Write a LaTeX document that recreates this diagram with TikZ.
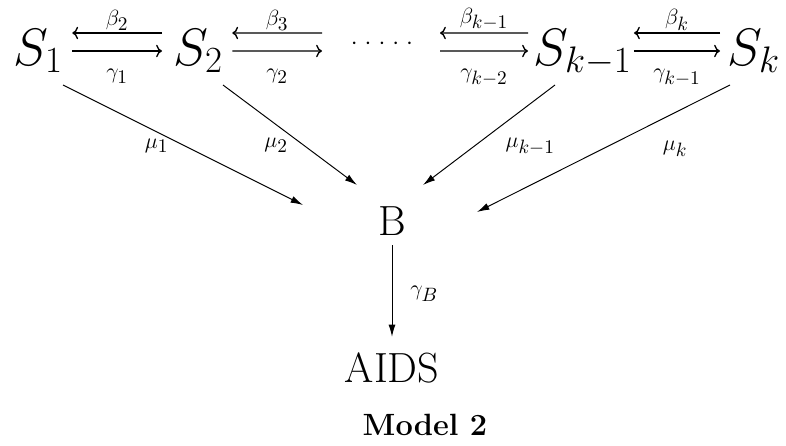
\RequirePackage{fix-cm}
\documentclass[tikz,border=0pt]{standalone}
\usepackage{amsmath}
\usetikzlibrary{arrows.meta,positioning}
\DeclareMathSizes{12.5}{12.5}{11}{8}

\begin{document}
\begin{tikzpicture}[
    state/.style={inner sep=0pt, anchor=base west, font=\fontsize{30}{36}\selectfont},
    comp/.style={inner sep=0pt, anchor=base, font=\fontsize{24}{29}\selectfont},
    rate/.style={inner sep=1pt, font=\fontsize{12.5}{15}\selectfont},
    flow/.style={-{To}, line width=0.8pt},
    mort/.style={-{Latex[length=7pt,width=4pt]}, line width=0.55pt}
]
    \useasboundingbox (0,0) rectangle (15.72,-8.92);
    % stages of infection
    \node[state] (s1) at (0.26,-1.30) {$S_1$};
    \node[state] (s2) at (3.46,-1.30) {$S_2$};
    \node[anchor=base, inner sep=0pt, font=\fontsize{14}{16}\selectfont] (dots) at (7.64,-0.98)
        {${\cdot}\hspace{4pt}{\cdot}\hspace{4pt}{\cdot}\hspace{4pt}{\cdot}\hspace{4pt}{\cdot}$};
    \node[state] (skm) at (10.66,-1.30) {$S_{k-1}$};
    \node[state] (sk) at (14.54,-1.30) {$S_k$};
    \node[comp] (B) at (7.84,-4.70) {B};
    \node[comp] (AIDS) at (7.84,-7.64) {AIDS};
    \node[anchor=base, inner sep=0pt, font=\fontsize{17.5}{21}\selectfont\bfseries] (model) at (8.50,-8.70) {Model 2};

    % transitions between stages
    \draw[flow] ([shift={(-0.22,0.64)}]s2.base west) -- node[rate, above] (b2) {$\beta_2$} ([shift={(0.18,0.64)}]s1.base east);
    \draw[flow] ([shift={(0.18,0.28)}]s1.base east) -- node[rate, below=9pt] (g1) {$\gamma_1$} ([shift={(-0.22,0.28)}]s2.base west);
    \draw[flow] ([shift={(-1.20,0.32)}]dots.base) -- node[rate, above] (b3) {$\beta_3$} ([shift={(0.18,0.64)}]s2.base east);
    \draw[flow] ([shift={(0.18,0.28)}]s2.base east) -- node[rate, below=9pt] (g2) {$\gamma_2$} ([shift={(-1.20,-0.04)}]dots.base);
    \draw[flow] ([shift={(-0.10,0.64)}]skm.base west) -- node[rate, above] (bkm) {$\beta_{k-1}$} ([shift={(1.16,0.32)}]dots.base);
    \draw[flow] ([shift={(1.16,-0.04)}]dots.base) -- node[rate, below=9pt] (gkmm) {$\gamma_{k-2}$} ([shift={(-0.10,0.28)}]skm.base west);
    \draw[flow] ([shift={(-0.14,0.64)}]sk.base west) -- node[rate, above] (bk) {$\beta_k$} ([shift={(0.04,0.64)}]skm.base east);
    \draw[flow] ([shift={(0.04,0.28)}]skm.base east) -- node[rate, below=9pt] (gkm) {$\gamma_{k-1}$} ([shift={(-0.14,0.28)}]sk.base west);

    % progression to B
    \draw[mort] ([shift={(1.00,-0.40)}]s1.base west) -- node[rate, pos=0.39, below=2.6pt] (mu1) {$\mu_1$} ([shift={(-1.78,0.60)}]B.base);
    \draw[mort] ([shift={(1.00,-0.40)}]s2.base west) -- node[rate, pos=0.6, left=7.5pt] (mu2) {$\mu_2$} ([shift={(-0.70,1.00)}]B.base);
    \draw[mort] ([shift={(0.44,-0.40)}]skm.base west) -- node[rate, pos=0.62, right=17.2pt] (mukm) {$\mu_{k-1}$} ([shift={(0.62,1.00)}]B.base);
    \draw[mort] ([shift={(0.06,-0.40)}]sk.base west) -- node[rate, pos=0.217, below=14.8pt] (muk) {$\mu_k$} ([shift={(1.70,0.46)}]B.base);
    \draw[mort, shorten <=0.2cm, shorten >=0.3cm] (B.south) -- node[rate, pos=0.5, right=9.2pt] (gB) {$\gamma_B$} (AIDS.north);
\end{tikzpicture}
\end{document}
